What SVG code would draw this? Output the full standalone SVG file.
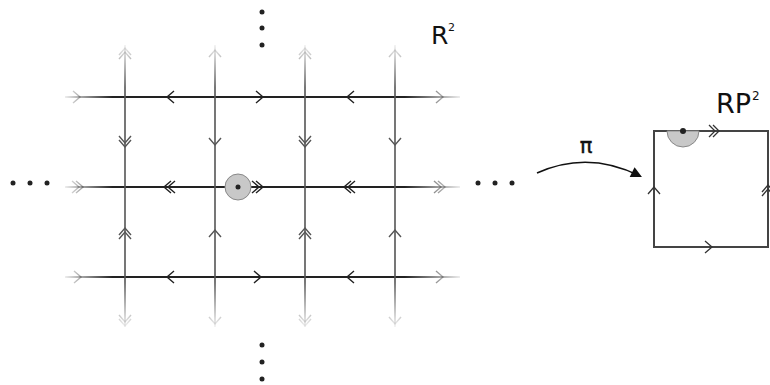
<svg xmlns="http://www.w3.org/2000/svg" width="770" height="385" viewBox="0 0 770 385">
  <defs>
    <linearGradient id="hf" gradientUnits="userSpaceOnUse" x1="65" y1="0" x2="460" y2="0">
      <stop offset="0" stop-color="#222" stop-opacity="0.08"/>
      <stop offset="0.12" stop-color="#222" stop-opacity="1"/>
      <stop offset="0.86" stop-color="#222" stop-opacity="1"/>
      <stop offset="1" stop-color="#222" stop-opacity="0.08"/>
    </linearGradient>
    <linearGradient id="vf" gradientUnits="userSpaceOnUse" x1="0" y1="45" x2="0" y2="327">
      <stop offset="0" stop-color="#555" stop-opacity="0.08"/>
      <stop offset="0.15" stop-color="#555" stop-opacity="1"/>
      <stop offset="0.84" stop-color="#555" stop-opacity="1"/>
      <stop offset="1" stop-color="#555" stop-opacity="0.08"/>
    </linearGradient>
    <marker id="ahb" viewBox="0 0 10 10" refX="8" refY="5" markerWidth="15" markerHeight="11" markerUnits="userSpaceOnUse" orient="auto">
      <path d="M0,0 L10,5 L0,10 Z" fill="#111"/>
    </marker>
  </defs>
  <style>
    .h { fill: none; stroke: url(#hf); stroke-width: 2; }
    .v { fill: none; stroke: url(#vf); stroke-width: 1.6; }
    .hc { fill: none; stroke: url(#hf); stroke-width: 1.4; }
    .vc { fill: none; stroke: url(#vf); stroke-width: 1.4; }
    .dot { fill: #222; }
    .sq { fill: none; stroke: #444; stroke-width: 2; }
    .sc { fill: none; stroke: #333; stroke-width: 1.3; }
    .disk { fill: #c8c8c8; stroke: #888; stroke-width: 1; }
    .lbl { font-family: "DejaVu Sans", "Liberation Sans", sans-serif; fill: #111; }
    .conn { fill: none; stroke: #111; stroke-width: 1.6; }
  </style>

  <g id="grid">
    <g id="rows">
      <path class="h" d="M65,97 H460 M65,187 H460 M65,277 H460"/>
      <path class="hc" d="M73,91 L80,97 L73,103 M174,91 L167,97 L174,103 M256,91 L263,97 L256,103 M354,91 L347,97 L354,103 M436,91 L443,97 L436,103"/>
      <path class="hc" d="M72,181 L79,187 L72,193 M76,181 L83,187 L76,193 M171,181 L164,187 L171,193 M175,181 L168,187 L175,193 M252,181 L259,187 L252,193 M256,181 L263,187 L256,193 M351,181 L344,187 L351,193 M355,181 L348,187 L355,193 M434,181 L441,187 L434,193 M438,181 L445,187 L438,193"/>
      <path class="hc" d="M74,271 L81,277 L74,283 M174,271 L167,277 L174,283 M254,271 L261,277 L254,283 M354,271 L347,277 L354,283 M436,271 L443,277 L436,283"/>
    </g>
    <g id="cols">
      <path class="v" d="M125,45 V327 M215,45 V327 M305,45 V327 M395,45 V327"/>
      <path class="vc" d="M119,55 L125,48 L131,55 M119,59 L125,52 L131,59 M119,136 L125,143 L131,136 M119,140 L125,147 L131,140 M119,235 L125,228 L131,235 M119,239 L125,232 L131,239 M119,315 L125,322 L131,315 M119,319 L125,326 L131,319"/>
      <path class="vc" d="M209,57 L215,50 L221,57 M209,138 L215,145 L221,138 M209,237 L215,230 L221,237 M209,317 L215,324 L221,317"/>
      <path class="vc" d="M299,55 L305,48 L311,55 M299,59 L305,52 L311,59 M299,136 L305,143 L311,136 M299,140 L305,147 L311,140 M299,235 L305,228 L311,235 M299,239 L305,232 L311,239 M299,315 L305,322 L311,315 M299,319 L305,326 L311,319"/>
      <path class="vc" d="M389,57 L395,50 L401,57 M389,138 L395,145 L401,138 M389,237 L395,230 L401,237 M389,317 L395,324 L401,317"/>
    </g>
    <g id="basepoint">
      <circle class="disk" cx="238" cy="187" r="13"/>
      <circle class="dot" cx="238" cy="187" r="2.5"/>
    </g>
  </g>

  <g id="ellipses">
    <circle class="dot" cx="262" cy="12" r="2.5"/>
    <circle class="dot" cx="262" cy="28" r="2.5"/>
    <circle class="dot" cx="262" cy="45" r="2.5"/>
    <circle class="dot" cx="262" cy="345" r="2.5"/>
    <circle class="dot" cx="262" cy="362" r="2.5"/>
    <circle class="dot" cx="262" cy="379" r="2.5"/>
    <circle class="dot" cx="13" cy="183" r="2.5"/>
    <circle class="dot" cx="30" cy="183" r="2.5"/>
    <circle class="dot" cx="47" cy="183" r="2.5"/>
    <circle class="dot" cx="478" cy="183" r="2.5"/>
    <circle class="dot" cx="495" cy="183" r="2.5"/>
    <circle class="dot" cx="512" cy="183" r="2.5"/>
  </g>

  <g id="label-R2">
    <text class="lbl" x="431" y="44" font-size="25">R</text>
    <text class="lbl" x="448" y="31" font-size="11">2</text>
  </g>

  <g id="RP2">
    <rect class="sq" x="654" y="131" width="114" height="116"/>
    <path class="disk" d="M667,131 A16,16 0 0 0 699,131 Z"/>
    <circle class="dot" cx="683" cy="131" r="3"/>
    <path class="sc" d="M709,125 L715,131 L709,137 M713,125 L719,131 L713,137"/>
    <path class="sc" d="M648,194 L654,187 L660,194"/>
    <path class="sc" d="M705,241 L712,247 L705,253"/>
    <path class="sc" d="M762,192 L768,185 L774,192 M762,196 L768,189 L774,196"/>
    <text class="lbl" x="716" y="113" font-size="27">RP</text>
    <text class="lbl" x="752" y="100" font-size="12">2</text>
  </g>

  <g id="connectors">
    <path id="pi-map" class="conn" d="M537,173 Q588,150 640,176" marker-end="url(#ahb)"/>
    <text class="lbl" x="586" y="153" font-size="21" text-anchor="middle" stroke="#111" stroke-width="0.4">π</text>
  </g>
</svg>
